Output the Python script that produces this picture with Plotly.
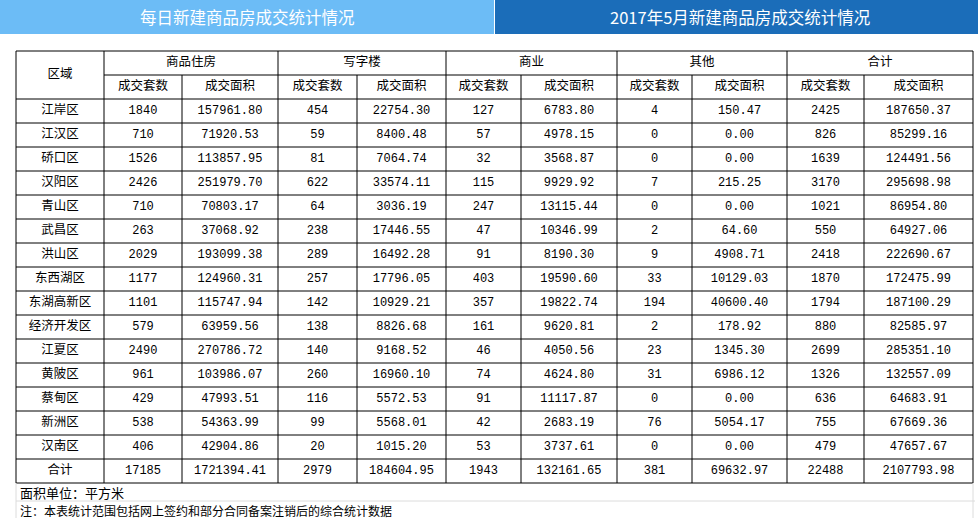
import plotly.graph_objects as go

# ---------------- data ----------------
districts = ["江岸区", "江汉区", "硚口区", "汉阳区", "青山区", "武昌区", "洪山区", "东西湖区",
             "东湖高新区", "经济开发区", "江夏区", "黄陂区", "蔡甸区", "新洲区", "汉南区", "合计"]
res_units = [1840, 710, 1526, 2426, 710, 263, 2029, 1177, 1101, 579, 2490, 961, 429, 538, 406, 17185]
res_area = [157961.80, 71920.53, 113857.95, 251979.70, 70803.17, 37068.92, 193099.38, 124960.31,
            115747.94, 63959.56, 270786.72, 103986.07, 47993.51, 54363.99, 42904.86, 1721394.41]
off_units = [454, 59, 81, 622, 64, 238, 289, 257, 142, 138, 140, 260, 116, 99, 20, 2979]
off_area = [22754.30, 8400.48, 7064.74, 33574.11, 3036.19, 17446.55, 16492.28, 17796.05,
            10929.21, 8826.68, 9168.52, 16960.10, 5572.53, 5568.01, 1015.20, 184604.95]
com_units = [127, 57, 32, 115, 247, 47, 91, 403, 357, 161, 46, 74, 91, 42, 53, 1943]
com_area = [6783.80, 4978.15, 3568.87, 9929.92, 13115.44, 10346.99, 8190.30, 19590.60,
            19822.74, 9620.81, 4050.56, 4624.80, 11117.87, 2683.19, 3737.61, 132161.65]
oth_units = [4, 0, 0, 7, 0, 2, 9, 33, 194, 2, 23, 31, 0, 76, 0, 381]
oth_area = [150.47, 0.00, 0.00, 215.25, 0.00, 64.60, 4908.71, 10129.03,
            40600.40, 178.92, 1345.30, 6986.12, 0.00, 5054.17, 0.00, 69632.97]
tot_units = [2425, 826, 1639, 3170, 1021, 550, 2418, 1870, 1794, 880, 2699, 1326, 636, 755, 479, 22488]
tot_area = [187650.37, 85299.16, 124491.56, 295698.98, 86954.80, 64927.06, 222690.67, 172475.99,
            187100.29, 82585.97, 285351.10, 132557.09, 64683.91, 67669.36, 47657.67, 2107793.98]

group_headers = ["商品住房", "写字楼", "商业", "其他", "合计"]
sub_headers = ["成交套数", "成交面积"]
region_header = "区域"
title_left = "每日新建商品房成交统计情况"
title_right = "2017年5月新建商品房成交统计情况"
footer_unit = "面积单位：平方米"
footer_note = "注：本表统计范围包括网上签约和部分合同备案注销后的综合统计数据"

# ---------------- layout geometry ----------------
W, H = 978, 529
col_edges = [16, 104, 182, 278, 357, 446, 521, 617, 692, 787, 864, 973]
table_top = 51
row_h = 24
n_rows = len(districts)
header_rows = 2
table_bottom = table_top + (header_rows + n_rows) * row_h

CJK = "Noto Sans CJK SC, sans-serif"
MONO = "Liberation Mono, Noto Sans CJK SC, monospace"

fig = go.Figure()
shapes = []
annotations = []

# title bars
shapes.append(dict(type="rect", xref="x", yref="y", x0=0, x1=494, y0=0, y1=34,
                   fillcolor="#6cbcf6", line=dict(width=0), layer="below"))
shapes.append(dict(type="rect", xref="x", yref="y", x0=495, x1=W, y0=0, y1=34,
                   fillcolor="#1b6db9", line=dict(width=0), layer="below"))
annotations.append(dict(x=247, y=17, xref="x", yref="y", text=title_left, showarrow=False,
                        font=dict(family=CJK, size=16.5, color="white")))
annotations.append(dict(x=740, y=17, xref="x", yref="y", text=title_right, showarrow=False,
                        font=dict(family=CJK, size=16.5, color="white")))

line = dict(color="black", width=1)

def hline(y, x0, x1, ln=line):
    shapes.append(dict(type="line", xref="x", yref="y", x0=x0, x1=x1, y0=y, y1=y, line=ln))

def vline(x, y0, y1, ln=line):
    shapes.append(dict(type="line", xref="x", yref="y", x0=x, x1=x, y0=y0, y1=y1, line=ln))

# horizontal lines
hline(table_top, col_edges[0], col_edges[-1])
hline(table_top + row_h, col_edges[1], col_edges[-1])
for r in range(n_rows + 1):
    hline(table_top + (header_rows + r) * row_h, col_edges[0], col_edges[-1])

# vertical lines
for i, x in enumerate(col_edges):
    if i in (0, 1) or i == len(col_edges) - 1 or (i - 1) % 2 == 0:
        vline(x, table_top, table_bottom)
    else:
        vline(x, table_top + row_h, table_bottom)

# footer light grid
grey = dict(color="#dcdcdc", width=1)
vline(col_edges[0], table_bottom, table_bottom + 35, grey)
vline(col_edges[-1], table_bottom, table_bottom + 35, grey)
hline(table_bottom + 18, col_edges[0], col_edges[-1] + 2, grey)

def cx(i):
    return (col_edges[i] + col_edges[i + 1]) / 2

def cy(r):
    return table_top + (r + 0.5) * row_h

# header texts
hx, hy, ht = [cx(0)], [table_top + row_h], [region_header]
for g, name in enumerate(group_headers):
    hx.append((col_edges[1 + 2 * g] + col_edges[3 + 2 * g]) / 2)
    hy.append(cy(0))
    ht.append(name)
    for s in range(2):
        hx.append(cx(1 + 2 * g + s))
        hy.append(cy(1))
        ht.append(sub_headers[s])
fig.add_trace(go.Scatter(x=hx, y=hy, text=ht, mode="text", hoverinfo="skip",
                         textfont=dict(family=CJK, size=12.5, color="black")))

# district column
fig.add_trace(go.Scatter(x=[cx(0)] * n_rows, y=[cy(header_rows + r) for r in range(n_rows)],
                         text=districts, mode="text", hoverinfo="skip",
                         textfont=dict(family=CJK, size=12.5, color="black")))

columns = [res_units, res_area, off_units, off_area, com_units, com_area,
           oth_units, oth_area, tot_units, tot_area]
for j, col in enumerate(columns):
    if j % 2 == 0:
        txt = [str(v) for v in col]
    else:
        txt = [f"{v:.2f}" for v in col]
    fig.add_trace(go.Scatter(x=[cx(j + 1)] * n_rows,
                             y=[cy(header_rows + r) for r in range(n_rows)],
                             text=txt, mode="text", hoverinfo="skip",
                             textfont=dict(family=MONO, size=12, color="black")))

# footer text
annotations.append(dict(x=18, y=table_bottom + 9, xref="x", yref="y", text=footer_unit,
                        showarrow=False, xanchor="left",
                        font=dict(family=CJK, size=13, color="black")))
annotations.append(dict(x=18, y=table_bottom + 27, xref="x", yref="y", text=footer_note,
                        showarrow=False, xanchor="left",
                        font=dict(family=CJK, size=12, color="black")))

fig.update_layout(
    width=W, height=H,
    margin=dict(l=0, r=0, t=0, b=0),
    paper_bgcolor="white", plot_bgcolor="white",
    showlegend=False,
    shapes=shapes, annotations=annotations,
    xaxis=dict(range=[0, W], visible=False, fixedrange=True),
    yaxis=dict(range=[H, 0], visible=False, fixedrange=True),
)

fig.write_html("out.html", config={"displayModeBar": False},
               post_script="document.body.style.margin='0';document.body.style.overflow='hidden';")
